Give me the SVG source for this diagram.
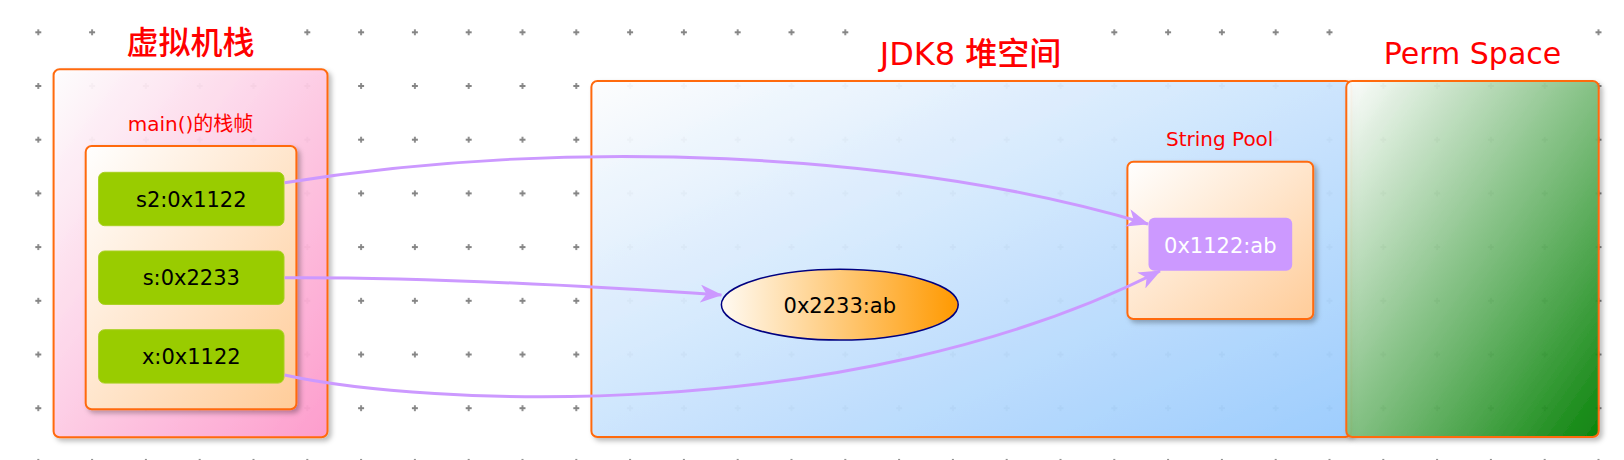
<svg xmlns="http://www.w3.org/2000/svg" width="1624" height="460" viewBox="0 0 1624 460">
  <defs>
    <style>
      .title { font-family: "DejaVu Sans", "Noto Sans CJK SC", sans-serif; fill: #FF0000; text-anchor: middle; font-weight: 500; }
      .sub { font-family: "DejaVu Sans", "Noto Sans CJK SC", sans-serif; fill: #FF0000; text-anchor: middle; font-size: 20px; }
      .lbl { font-family: "DejaVu Sans", sans-serif; font-size: 21px; text-anchor: middle; fill: #000000; }
      .box { stroke: #FF6A10; stroke-width: 2; }
      .var { fill: #99CC00; stroke: #A8D020; stroke-width: 1; }
      .conn { fill: none; stroke: #CC99FF; stroke-width: 3; marker-end: url(#arrow); }
    </style>
    <pattern id="grid" x="11.4" y="5.45" width="53.8" height="53.7" patternUnits="userSpaceOnUse">
      <path d="M23.9,26.85h6M26.9,23.85v6" stroke="#858585" stroke-width="1.8" fill="none"/>
    </pattern>
    <linearGradient id="gPink" x1="0" y1="0" x2="1" y2="1">
      <stop offset="0" stop-color="#FFFFFF"/>
      <stop offset="1" stop-color="#FF99CC"/>
    </linearGradient>
    <linearGradient id="gPeach" x1="0" y1="0" x2="1" y2="1">
      <stop offset="0" stop-color="#FFFFFF"/>
      <stop offset="1" stop-color="#FFCC99"/>
    </linearGradient>
    <linearGradient id="gBlue" x1="0" y1="0" x2="1" y2="1">
      <stop offset="0" stop-color="#FFFFFF"/>
      <stop offset="1" stop-color="#99CCFF"/>
    </linearGradient>
    <linearGradient id="gGreen" x1="0" y1="0" x2="1" y2="1">
      <stop offset="0" stop-color="#FFFFFF"/>
      <stop offset="1" stop-color="#008000"/>
    </linearGradient>
    <linearGradient id="gOrange" x1="0" y1="0" x2="1" y2="0">
      <stop offset="0" stop-color="#FFFAF2"/>
      <stop offset="1" stop-color="#FF9900"/>
    </linearGradient>
    <filter id="shadow" x="-10%" y="-10%" width="130%" height="130%">
      <feDropShadow dx="3" dy="3" stdDeviation="2.5" flood-color="#000000" flood-opacity="0.28"/>
    </filter>
    <marker id="arrow" viewBox="0 0 22 18" refX="21" refY="9" markerWidth="22" markerHeight="18" markerUnits="userSpaceOnUse" orient="auto">
      <path d="M0,0 L22,9 L0,18 L6,9 Z" fill="#CC99FF"/>
    </marker>
  </defs>

  <rect x="0" y="0" width="1624" height="460" fill="#FFFFFF"/>
  <rect x="0" y="0" width="1624" height="460" fill="url(#grid)"/>

  <g id="title-vm-stack">
    <rect x="112" y="12" width="156" height="42" fill="#FFFFFF"/>
    <text class="title" x="190.5" y="54" font-size="32">虚拟机栈</text>
  </g>
  <g id="title-heap">
    <rect x="866" y="12" width="209" height="42" fill="#FFFFFF"/>
    <text class="title" x="970.5" y="65" font-size="32">JDK8 堆空间</text>
  </g>
  <g id="title-perm">
    <rect x="1370" y="12" width="205" height="42" fill="#FFFFFF"/>
    <text class="title" x="1472.5" y="63.5" font-size="30">Perm Space</text>
  </g>

  <g id="vm-stack">
    <rect class="box" x="53.6" y="69.3" width="273.9" height="368" rx="6" fill="url(#gPink)" fill-opacity="0.93" filter="url(#shadow)"/>
  </g>
  <g id="main-frame">
    <text class="sub" x="190.5" y="130.5">main()的栈帧</text>
    <rect class="box" x="85.7" y="146" width="210.7" height="263.3" rx="6" fill="url(#gPeach)" filter="url(#shadow)"/>
  </g>
  <g id="var-s2">
    <rect class="var" x="98.6" y="172.3" width="185.4" height="53.4" rx="6"/>
    <text class="lbl" x="191.3" y="206.5">s2:0x1122</text>
  </g>
  <g id="var-s">
    <rect class="var" x="98.6" y="251" width="185.4" height="53.4" rx="6"/>
    <text class="lbl" x="191.3" y="285">s:0x2233</text>
  </g>
  <g id="var-x">
    <rect class="var" x="98.6" y="329.7" width="185.4" height="53.4" rx="6"/>
    <text class="lbl" x="191.3" y="363.5">x:0x1122</text>
  </g>

  <g id="heap">
    <rect class="box" x="591.4" y="81" width="760" height="356" rx="6" fill="url(#gBlue)" fill-opacity="0.93" filter="url(#shadow)"/>
  </g>
  <g id="perm-space">
    <rect class="box" x="1346.3" y="81" width="252.4" height="356" rx="6" fill="url(#gGreen)" fill-opacity="0.93" filter="url(#shadow)"/>
  </g>

  <g id="string-pool">
    <text class="sub" x="1219.7" y="145.7">String Pool</text>
    <rect class="box" x="1127.4" y="161.7" width="185.8" height="157.3" rx="6" fill="url(#gPeach)" filter="url(#shadow)"/>
  </g>
  <g id="str-1122">
    <rect x="1148.5" y="217.7" width="143.7" height="53" rx="6" fill="#CC99FF"/>
    <text class="lbl" x="1220.3" y="252.5" style="fill:#FFFFFF">0x1122:ab</text>
  </g>
  <g id="str-2233">
    <ellipse cx="839.8" cy="304.7" rx="118.4" ry="35.4" fill="url(#gOrange)" stroke="#000080" stroke-width="1.5"/>
    <text class="lbl" x="839.8" y="312.5">0x2233:ab</text>
  </g>

  <g id="connectors">
    <path class="conn" d="M284.6,182.7 C560,138 900,150 1148,224"/>
    <path class="conn" d="M284.6,277.7 C420,277 560,284 721.4,295"/>
    <path class="conn" d="M284.6,375 C420,405 850,428 1160,271"/>
  </g>
</svg>
